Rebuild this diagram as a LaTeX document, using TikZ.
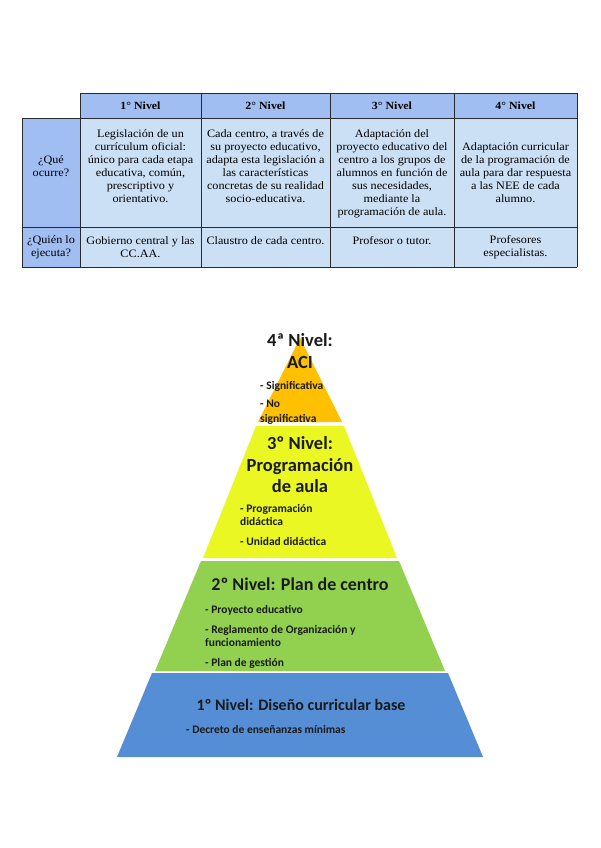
\documentclass[tikz,border=0pt]{standalone}
\usepackage{fontspec}
\setmainfont{Liberation Serif}
\newfontfamily\tabfont[FakeStretch=1.08]{Liberation Serif}
\newfontfamily\calib{Carlito}
\definecolor{hdr}{HTML}{A0BEF2}
\definecolor{cellbg}{HTML}{CCE0F5}
\definecolor{lvlfour}{HTML}{FFC000}
\definecolor{lvlthree}{HTML}{EAF723}
\definecolor{lvltwo}{HTML}{92D050}
\definecolor{lvlone}{HTML}{558ED5}
\definecolor{gridc}{HTML}{2A2A2A}
\definecolor{pyrtext}{HTML}{1A1A1A}
\begin{document}
\begin{tikzpicture}[x=1pt,y=-1pt,
  tabtxt/.style={inner sep=0pt, align=center, font=\tabfont\fontsize{11.3}{13}\selectfont},
  tabhead/.style={inner sep=0pt, font=\tabfont\fontsize{11}{13}\selectfont\bfseries},
  gridline/.style={draw=gridc, line width=0.8pt},
  lvltitle/.style={inner sep=0pt, align=center, text=pyrtext, font=\calib\bfseries\fontsize{18.5}{21.5}\selectfont},
  bulletline/.style={inner sep=0pt, anchor=base west, text=pyrtext, font=\calib\bfseries\fontsize{11.5}{14}\selectfont}]
\useasboundingbox (0,0) rectangle (600,848);
\fill[white] (0,0) rectangle (600,848);

% ---------- table ----------
\fill[hdr] (80,93) rectangle (577,118);
\fill[hdr] (22,118) rectangle (80,267);
\fill[cellbg] (80,118) rectangle (577,267);
\draw[gridline] (80,93) -- (577,93);
\draw[gridline] (22,118) -- (577,118);
\draw[gridline] (22,227) -- (577,227);
\draw[gridline] (22,267) -- (577,267);
\draw[gridline] (22,118) -- (22,267);
\draw[gridline] (80,93) -- (80,267);
\draw[gridline] (201,93) -- (201,267);
\draw[gridline] (330,93) -- (330,267);
\draw[gridline] (454,93) -- (454,267);
\draw[gridline] (577,93) -- (577,267);

\node[tabhead] (h1) at (140.5,106) {1° Nivel};
\node[tabhead] (h2) at (265.5,106) {2° Nivel};
\node[tabhead] (h3) at (392,106) {3° Nivel};
\node[tabhead] (h4) at (515.5,106) {4° Nivel};

\node[tabtxt] (q1) at (51,166) {¿Qué\\ocurre?};
\node[tabtxt] (q2) at (51,247) {¿Quién lo\\ejecuta?};

\node[tabtxt] (a1) at (140.5,166) {Legislación de un\\currículum oficial:\\único para cada etapa\\educativa, común,\\prescriptivo y\\orientativo.};
\node[tabtxt] (a2) at (265.5,166) {Cada centro, a través de\\su proyecto educativo,\\adapta esta legislación a\\las características\\concretas de su realidad\\socio-educativa.};
\node[tabtxt] (a3) at (392,174) {Adaptación del\\proyecto educativo del\\centro a los grupos de\\alumnos en función de\\sus necesidades,\\mediante la\\programación de aula.};
\node[tabtxt] (a4) at (515.5,173) {Adaptación curricular\\de la programación de\\aula para dar respuesta\\a las NEE de cada\\alumno.};

\node[tabtxt] (b1) at (140.5,247) {Gobierno central y las\\CC.AA.};
\node[tabtxt] (b2) at (265.5,241) {Claustro de cada centro.};
\node[tabtxt] (b3) at (392,241) {Profesor o tutor.};
\node[tabtxt] (b4) at (515.5,247) {Profesores\\especialistas.};

% ---------- pyramid ----------
\fill[lvlfour] (300,338) -- (342,422) -- (258,422) -- cycle;
\node[lvltitle] (t4) at (300,351) {4ª Nivel:\\ACI};
\node[bulletline] (p4a) at (260,389) {- Significativa};
\node[bulletline] (p4b) at (260,407) {- No};
\node[bulletline] (p4c) at (260,422) {significativa};

\fill[lvlthree] (256,426) -- (344,426) -- (397,558) -- (203,558) -- cycle;
\node[lvltitle] (t3) at (300,465) {3º Nivel:\\Programación\\de aula};
\node[bulletline] (p3a) at (240,512) {- Programación};
\node[bulletline] (p3b) at (240,525.5) {didáctica};
\node[bulletline] (p3c) at (240,545) {- Unidad didáctica};

\fill[lvltwo] (201,561) -- (399,561) -- (445,671) -- (155,671) -- cycle;
\node[lvltitle, font=\calib\bfseries\fontsize{18}{21}\selectfont] (t2) at (300,584) {2º Nivel: Plan de centro};
\node[bulletline] (p2a) at (205,613) {- Proyecto educativo};
\node[bulletline] (p2b) at (205,633) {- Reglamento de Organización y};
\node[bulletline] (p2c) at (205,646.5) {funcionamiento};
\node[bulletline] (p2d) at (205,666) {- Plan de gestión};

\fill[lvlone] (152,673) -- (448,673) -- (483,757) -- (117,757) -- cycle;
\node[lvltitle, font=\calib\bfseries\fontsize{16}{19}\selectfont] (t1) at (301,705) {1º Nivel: Diseño curricular base};
\node[bulletline] (p1a) at (186,733) {- Decreto de enseñanzas mínimas};
\end{tikzpicture}
\end{document}
